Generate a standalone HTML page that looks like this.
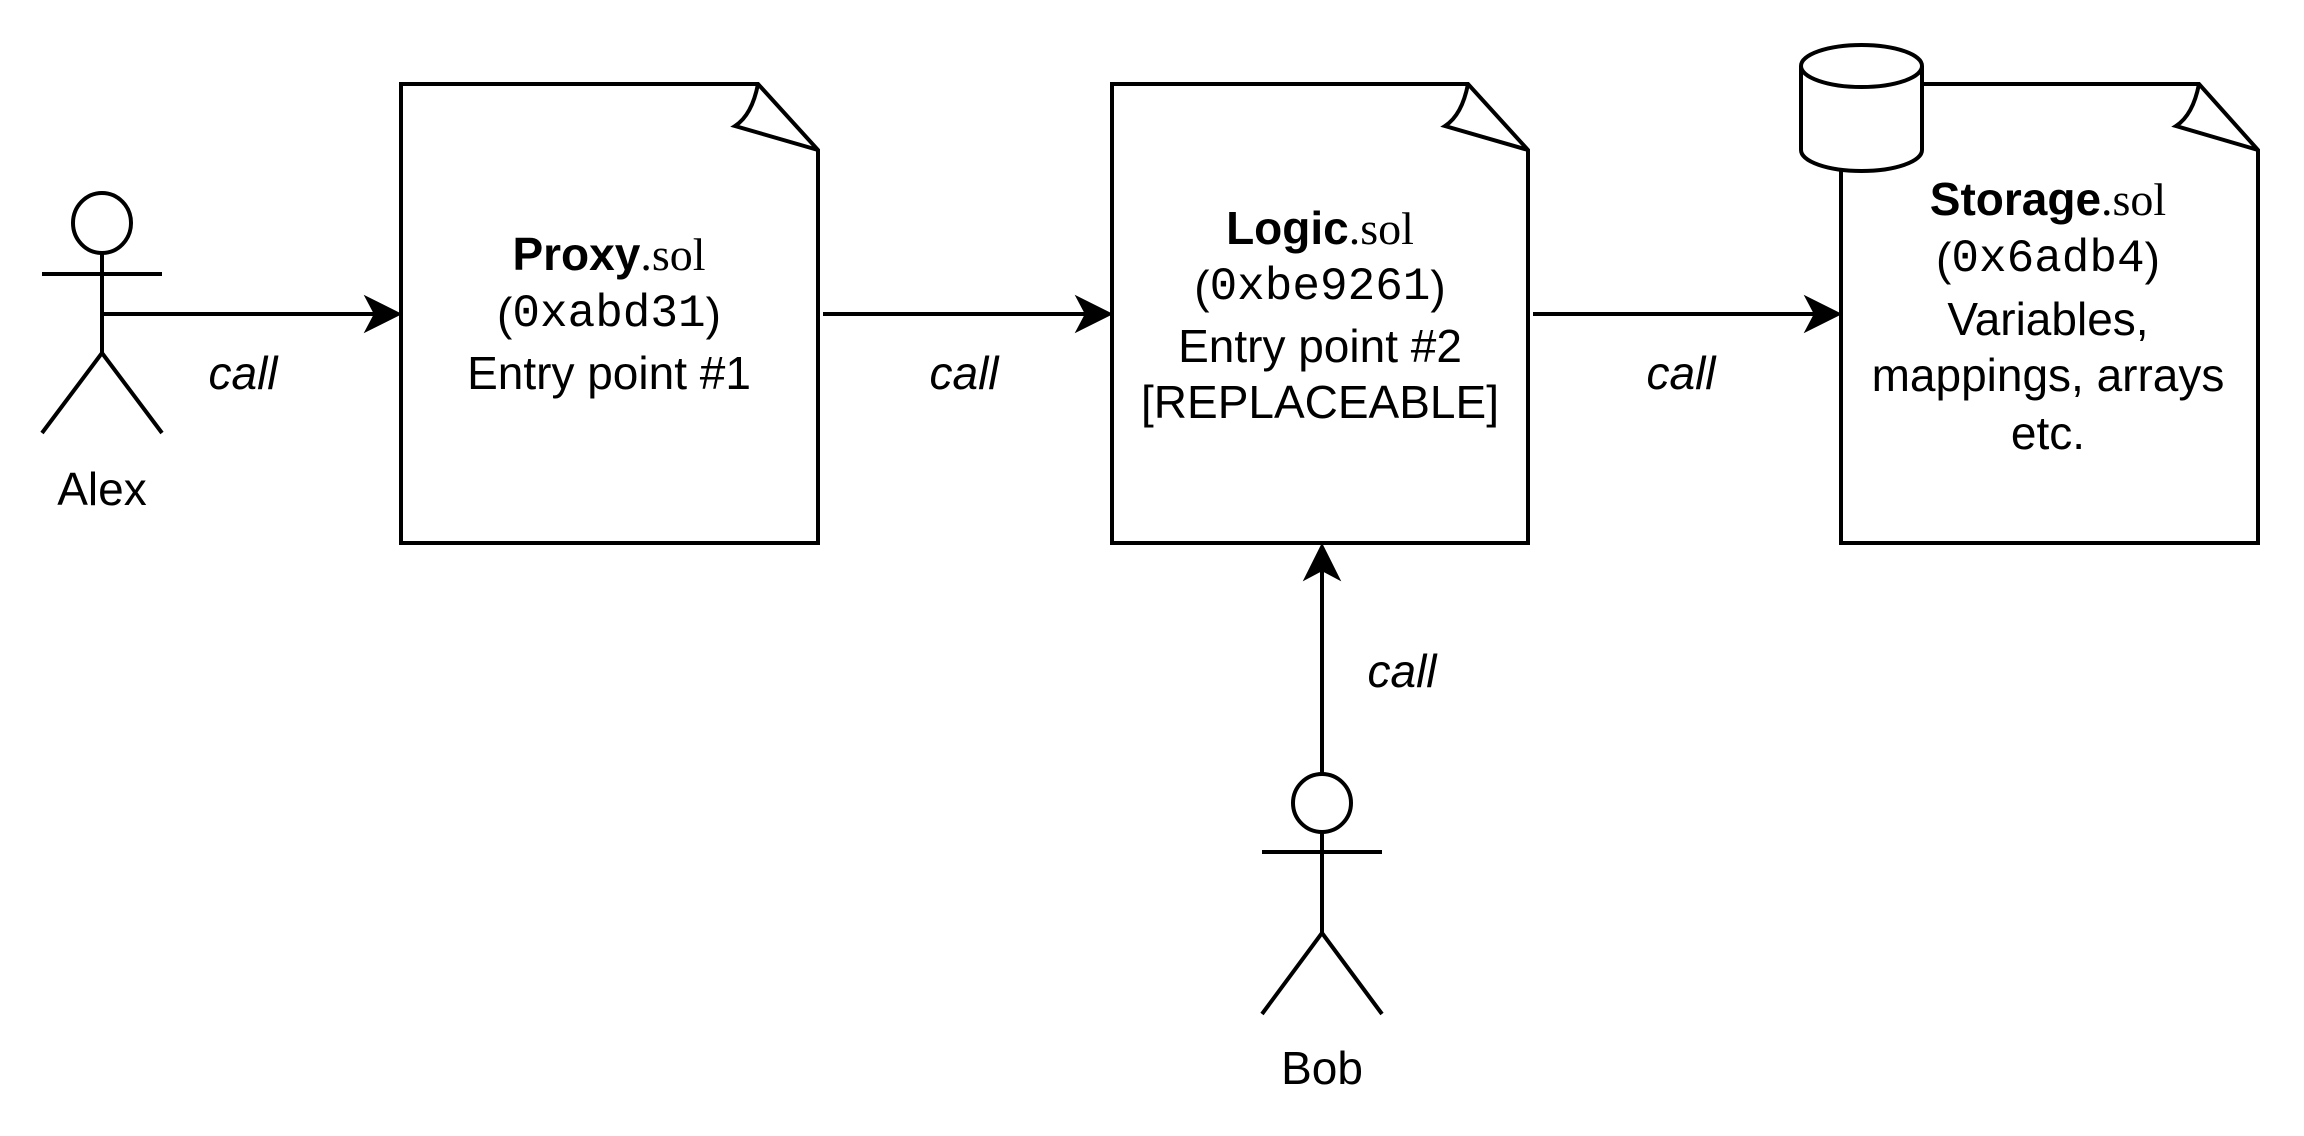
<!DOCTYPE html>
<html><head><meta charset="utf-8"><style>
html,body{margin:0;padding:0;background:#fff;}
svg{display:block;}
text{font-family:"Liberation Sans",Arial,sans-serif;font-size:46px;fill:#000;text-anchor:middle;dominant-baseline:central;}
.i{font-style:italic;}
.b{font-weight:bold;}
.s{font-family:"Liberation Serif",serif;}
.m{font-family:"Liberation Mono",monospace;}
</style></head><body>
<svg width="2304" height="1136" viewBox="0 0 2304 1136" xmlns="http://www.w3.org/2000/svg">
<g fill="none" stroke="#000" stroke-width="4" stroke-linejoin="miter">
<path d="M401 84 H758 L818 150 V543 H401 Z" fill="#fff"/>
<path d="M758 84 Q752 115 735 126 L818 150"/>
<path d="M1112 84 H1468 L1528 150 V543 H1112 Z" fill="#fff"/>
<path d="M1468 84 Q1462 115 1445 126 L1528 150"/>
<path d="M1841 84 H2199 L2258 150 V543 H1841 Z" fill="#fff"/>
<path d="M2199 84 Q2193 115 2176 126 L2258 150"/>
<path d="M1801 66 V150 A60.5 21 0 0 0 1922 150 V66" fill="#fff"/>
<ellipse cx="1861.5" cy="66" rx="60.5" ry="21" fill="#fff"/>
<ellipse cx="102" cy="223" rx="29" ry="30"/>
<path d="M42 274 H162 M102 253 V353 L42 433 M102 353 L162 433"/>
<ellipse cx="1322" cy="803" rx="29" ry="29"/>
<path d="M1262 852 H1382 M1322 832 V933 L1262 1014 M1322 933 L1382 1014"/>
<path d="M104 314 H378 M823 314 H1090 M1533 314 H1819 M1322 774 V566"/>
</g>
<g fill="#000" stroke="#000" stroke-width="2">
<path d="M400 314 L366 297 L375 314 L366 331 Z"/>
<path d="M1111 314 L1077 297 L1086 314 L1077 331 Z"/>
<path d="M1840 314 L1806 297 L1815 314 L1806 331 Z"/>
<path d="M1322 545 L1305 579 L1322 570 L1339 579 Z"/>
</g>
<text x="609" y="254"><tspan class="b">Proxy</tspan><tspan class="s">.sol</tspan></text>
<text x="609" y="314">(<tspan class="m">0xabd31</tspan>)</text>
<text x="609" y="373">Entry point #1</text>
<text x="1320" y="228"><tspan class="b">Logic</tspan><tspan class="s">.sol</tspan></text>
<text x="1320" y="287">(<tspan class="m">0xbe9261</tspan>)</text>
<text x="1320" y="346">Entry point #2</text>
<text x="1320" y="402">[REPLACEABLE]</text>
<text x="2048" y="199"><tspan class="b">Storage</tspan><tspan class="s">.sol</tspan></text>
<text x="2048" y="259">(<tspan class="m">0x6adb4</tspan>)</text>
<text x="2048" y="319">Variables,</text>
<text x="2048" y="375">mappings, arrays</text>
<text x="2048" y="433">etc.</text>
<text class="i" x="243" y="373">call</text>
<text class="i" x="964" y="373">call</text>
<text class="i" x="1681" y="373">call</text>
<text class="i" x="1402" y="671">call</text>
<text x="102" y="489">Alex</text>
<text x="1322" y="1068">Bob</text>
</svg>
</body></html>
